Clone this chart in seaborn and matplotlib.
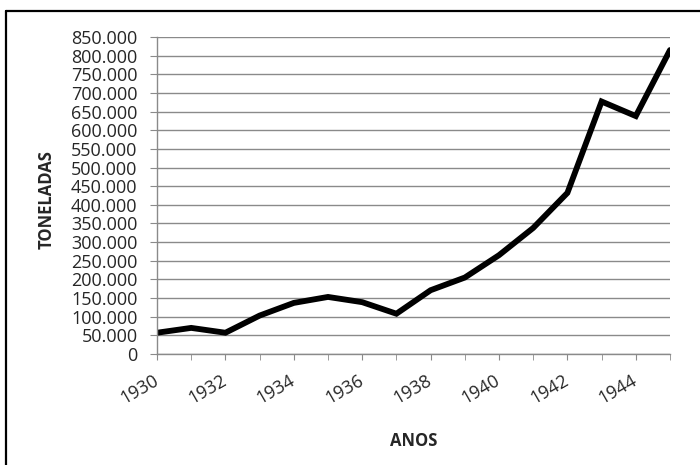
import matplotlib
matplotlib.use('Agg')
import pandas as pd
import matplotlib.pyplot as plt
import seaborn as sns
from matplotlib.ticker import FuncFormatter, MultipleLocator
from matplotlib.lines import Line2D
from matplotlib.transforms import ScaledTranslation

# ======================
# DATA
# ======================
anos = [1930, 1931, 1932, 1933, 1934, 1935, 1936, 1937,
        1938, 1939, 1940, 1941, 1942, 1943, 1944, 1945]
toneladas = [57000, 70000, 57000, 103000, 137000, 153000, 139000, 108000,
             171000, 205000, 265000, 338000, 432000, 677000, 638000, 815000]
xtick_labels = [1930, 1932, 1934, 1936, 1938, 1940, 1942, 1944]

df = pd.DataFrame({'Ano': anos, 'Toneladas': toneladas})

# ======================
# STYLE
# ======================
sns.set_style('white')
plt.rcParams['font.family'] = ['Open Sans', 'DejaVu Sans']

fig = plt.figure(figsize=(7, 4.65), dpi=100)
ax = fig.add_axes([157 / 700, 1 - 354 / 465, (670 - 157) / 700, (354 - 37) / 465])

sns.lineplot(data=df, x='Ano', y='Toneladas', color='black', linewidth=4.2, ax=ax,
             solid_joinstyle='miter')

# axes limits / ticks
ax.set_xlim(1930, 1945)
ax.set_ylim(0, 850000)
ax.yaxis.set_major_locator(MultipleLocator(50000))
ax.yaxis.set_major_formatter(FuncFormatter(lambda v, p: '0' if v == 0 else f'{int(v):,}'.replace(',', '.')))
ax.set_xticks(anos, minor=True)
ax.set_xticks(xtick_labels)
ax.set_xticklabels([str(a) for a in xtick_labels], rotation=30, ha='right', va='center',
                   rotation_mode='anchor')
shift = ScaledTranslation(4 / 100, 0, fig.dpi_scale_trans)
for lbl in ax.get_xticklabels():
    lbl.set_transform(lbl.get_transform() + shift)

ax.grid(axis='y', color='#8a8a8a', linewidth=1)
ax.set_axisbelow(True)
for s in ['top', 'right']:
    ax.spines[s].set_visible(False)
for s in ['left', 'bottom']:
    ax.spines[s].set_color('#8a8a8a')
    ax.spines[s].set_linewidth(1)

ax.tick_params(axis='y', which='major', direction='out', length=5, color='#8a8a8a',
               labelsize=13, pad=9, left=True)
ax.tick_params(axis='x', which='both', direction='out', length=4, color='#8a8a8a',
               labelsize=13, pad=14, bottom=True)

ax.set_xlabel('ANOS', fontsize=12, fontweight='bold')
ax.set_ylabel('TONELADAS', fontsize=12, fontweight='bold')
ax.xaxis.set_label_coords(0.5, (354 - 441) / 317)
ax.xaxis.label.set_va('center')
ax.yaxis.set_label_coords((46.5 - 157) / 513, (354 - 200) / 317)
ax.yaxis.label.set_va('center')

# chart frame: only its top and left edges fall inside the image
x0, y0 = 6 / 700, 1 - 11 / 465
fig.lines.append(Line2D([x0, 1.0], [y0, y0], transform=fig.transFigure, color='black', linewidth=1.6))
fig.lines.append(Line2D([x0, x0], [0.0, y0], transform=fig.transFigure, color='black', linewidth=1.6))

plt.savefig('out.png', dpi=100)
plt.close()
